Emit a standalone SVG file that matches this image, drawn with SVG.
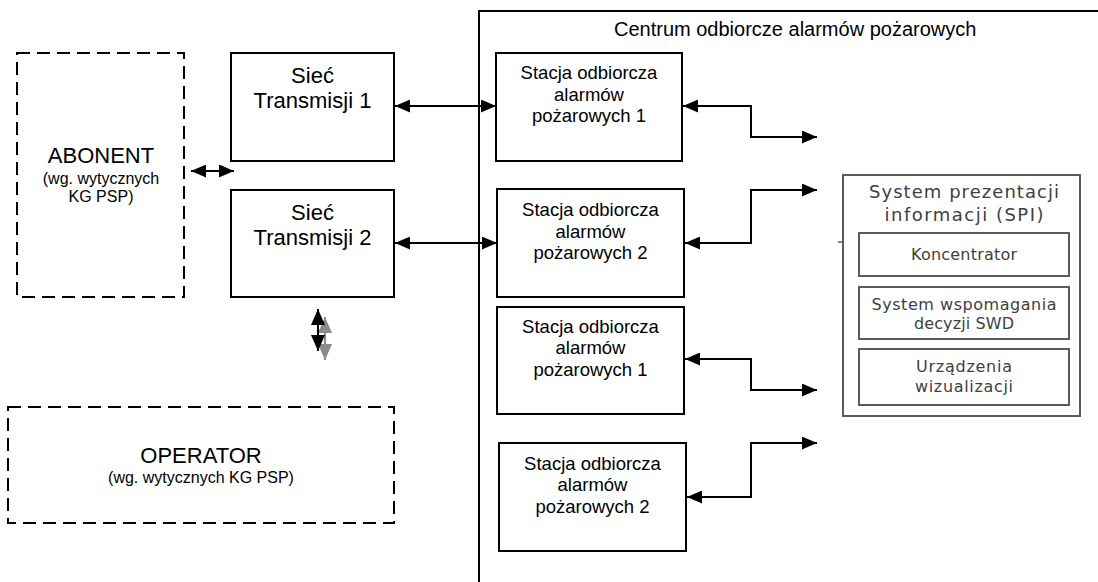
<svg xmlns="http://www.w3.org/2000/svg" width="1098" height="582" viewBox="0 0 1098 582">
<style>
text{font-family:"Liberation Sans",Arial,sans-serif;fill:#000;text-anchor:middle}
.box{fill:#fff;stroke:#000;stroke-width:2}
.dash{fill:#fff;stroke:#000;stroke-width:2;stroke-dasharray:13 7}
.big{font-size:22px}
.sub{font-size:16px}
.st{font-size:18.5px}
.title{font-size:20px;text-anchor:start}
.spi{fill:#fff;stroke:#5a5a5a;stroke-width:2}
.spit{font-family:"DejaVu Sans","Liberation Sans",sans-serif;fill:#404040;font-size:16px}
.spih{font-family:"DejaVu Sans","Liberation Sans",sans-serif;fill:#404040;font-size:18px}
.conl{fill:none;stroke:#000;stroke-width:2;marker-start:url(#ah);marker-end:url(#ah)}
</style>
<defs>
<marker id="ah" markerUnits="userSpaceOnUse" markerWidth="15" markerHeight="13" refX="15" refY="6.5" orient="auto-start-reverse">
<path d="M0,0 L15,6.5 L0,13 z" fill="#000"/>
</marker>
<marker id="av" markerUnits="userSpaceOnUse" markerWidth="16" markerHeight="14" refX="16" refY="7" orient="auto-start-reverse">
<path d="M0,0 L16,7 L0,14 z" fill="#000"/>
</marker>
<marker id="ag" markerUnits="userSpaceOnUse" markerWidth="16" markerHeight="14" refX="16" refY="7" orient="auto-start-reverse">
<path d="M0,0 L16,7 L0,14 z" fill="#8a8a8a"/>
</marker>
</defs>

<g id="centrum">
<path d="M1098 11 H479 V582" fill="none" stroke="#000" stroke-width="2"/>
<text class="title" x="614" y="36">Centrum odbiorcze alarmów pożarowych</text>
</g>

<g id="abonent">
<rect class="dash" x="17" y="53" width="167" height="244"/>
<text class="big" x="101" y="163">ABONENT</text>
<text class="sub" x="101" y="184">(wg. wytycznych</text>
<text class="sub" x="101" y="202">KG PSP)</text>
</g>

<g id="operator">
<rect class="dash" x="8" y="407" width="386" height="116"/>
<text class="big" x="201" y="463">OPERATOR</text>
<text class="sub" x="201" y="483">(wg. wytycznych KG PSP)</text>
</g>

<g id="siec1">
<rect class="box" x="231" y="53" width="163" height="108"/>
<text class="big" x="312.5" y="83">Sieć</text>
<text class="big" x="312.5" y="108">Transmisji 1</text>
</g>

<g id="siec2">
<rect class="box" x="231" y="190" width="163" height="107"/>
<text class="big" x="312.5" y="220">Sieć</text>
<text class="big" x="312.5" y="245">Transmisji 2</text>
</g>

<g id="stacja1">
<rect class="box" x="496" y="53" width="186" height="108"/>
<text class="st" x="589" y="79">Stacja odbiorcza</text>
<text class="st" x="589" y="100.5">alarmów</text>
<text class="st" x="589" y="122">pożarowych 1</text>
</g>

<g id="stacja2">
<rect class="box" x="497" y="189" width="187" height="108"/>
<text class="st" x="590.5" y="216">Stacja odbiorcza</text>
<text class="st" x="590.5" y="237.5">alarmów</text>
<text class="st" x="590.5" y="259">pożarowych 2</text>
</g>

<g id="stacja3">
<rect class="box" x="497" y="307" width="187" height="107"/>
<text class="st" x="590.5" y="333">Stacja odbiorcza</text>
<text class="st" x="590.5" y="354">alarmów</text>
<text class="st" x="590.5" y="376">pożarowych 1</text>
</g>

<g id="stacja4">
<rect class="box" x="499" y="443" width="187" height="108"/>
<text class="st" x="592.5" y="470">Stacja odbiorcza</text>
<text class="st" x="592.5" y="491">alarmów</text>
<text class="st" x="592.5" y="513">pożarowych 2</text>
</g>

<g id="spi">
<rect class="spi" x="843" y="175" width="237" height="241"/>
<line x1="838" y1="242" x2="843" y2="242" stroke="#5a5a5a" stroke-width="1.5"/>
<text class="spih" x="964" y="198" textLength="190" lengthAdjust="spacing">System prezentacji</text>
<text class="spih" x="964" y="221" textLength="159" lengthAdjust="spacing">informacji (SPI)</text>
<rect class="spi" x="859" y="233" width="210" height="43"/>
<text class="spit" x="964" y="260" textLength="106" lengthAdjust="spacing">Koncentrator</text>
<rect class="spi" x="859" y="287" width="210" height="52"/>
<text class="spit" x="964" y="310" textLength="185" lengthAdjust="spacing">System wspomagania</text>
<text class="spit" x="964" y="329" textLength="100" lengthAdjust="spacing">decyzji SWD</text>
<rect class="spi" x="859" y="349" width="210" height="56"/>
<text class="spit" x="964" y="372" textLength="96" lengthAdjust="spacing">Urządzenia</text>
<text class="spit" x="964" y="392" textLength="98" lengthAdjust="spacing">wizualizacji</text>
</g>

<g id="connectors">
<path class="conl" d="M191 171 H234"/>
<path class="conl" d="M395 106 H496"/>
<path class="conl" d="M395 243 H497"/>
<path class="conl" d="M683 106 H751 V137 H817"/>
<path class="conl" d="M685 243 H751 V190 H817"/>
<path class="conl" d="M685 359 H751 V390 H817"/>
<path class="conl" d="M687 497 H751 V443 H817"/>
<path d="M325 317 V360" fill="none" stroke="#8a8a8a" stroke-width="2" marker-start="url(#ag)" marker-end="url(#ag)"/>
<path d="M318 309 V351" fill="none" stroke="#000" stroke-width="2" marker-start="url(#av)" marker-end="url(#av)"/>
</g>
</svg>
